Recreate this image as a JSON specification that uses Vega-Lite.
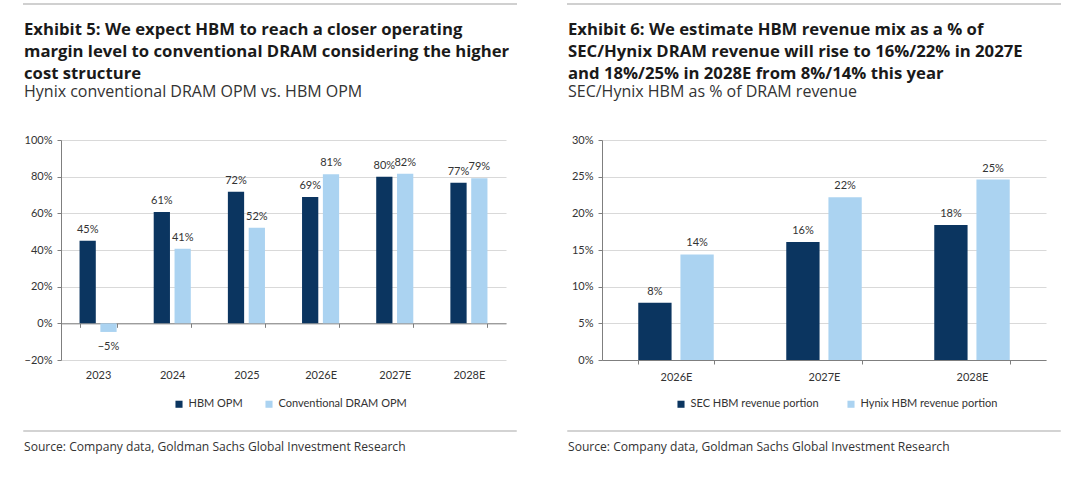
{
  "$schema": "https://vega.github.io/schema/vega-lite/v6.json",
  "background": "white",
  "padding": {"left": 23, "top": 3, "right": 0, "bottom": 0},
  "spacing": 50,
  "resolve": {
    "scale": {"color": "independent", "xOffset": "independent", "x": "independent", "y": "independent"},
    "legend": {"color": "independent"}
  },
  "hconcat": [
    {
      "columns": 1,
      "spacing": 14,
      "align": "none",
      "resolve": {"scale": {"color": "independent"}, "legend": {"color": "independent"}},
      "concat": [
        {
          "width": 492, "height": 0.01,
          "data": {"values": [{}]},
          "mark": {"type": "text", "text": " ", "fontSize": 1, "baseline": "top"},
          "encoding": {},
          "view": {"stroke": "#d0d0d0", "strokeWidth": 2}
        },
        {
          "width": 482, "height": 220,
          "title": {
            "text": ["Exhibit 5: We expect HBM to reach a closer operating", "margin level to conventional DRAM considering the higher", "cost structure"],
            "subtitle": "Hynix conventional DRAM OPM vs. HBM OPM"
          },
          "data": {
            "values": [
              {"year": "2023", "series": "HBM OPM", "value": 0.45},
              {"year": "2023", "series": "Conventional DRAM OPM", "value": -0.047},
              {"year": "2024", "series": "HBM OPM", "value": 0.607},
              {"year": "2024", "series": "Conventional DRAM OPM", "value": 0.407},
              {"year": "2025", "series": "HBM OPM", "value": 0.718},
              {"year": "2025", "series": "Conventional DRAM OPM", "value": 0.522},
              {"year": "2026E", "series": "HBM OPM", "value": 0.689},
              {"year": "2026E", "series": "Conventional DRAM OPM", "value": 0.813},
              {"year": "2027E", "series": "HBM OPM", "value": 0.8},
              {"year": "2027E", "series": "Conventional DRAM OPM", "value": 0.816},
              {"year": "2028E", "series": "HBM OPM", "value": 0.767},
              {"year": "2028E", "series": "Conventional DRAM OPM", "value": 0.791}
            ]
          },
          "encoding": {
            "x": {
              "field": "year", "type": "ordinal",
              "scale": {"range": [37, 482], "paddingInner": 0.5, "paddingOuter": 0.25},
              "axis": {"title": null, "offset": -36.67, "tickBand": "extent", "labelPadding": 42, "labelAngle": 0}
            },
            "xOffset": {"field": "series", "type": "nominal", "sort": ["HBM OPM", "Conventional DRAM OPM"], "scale": {"paddingInner": 0.22}},
            "y": {
              "field": "value", "type": "quantitative",
              "scale": {"domain": [-0.2, 1], "nice": false},
              "axis": {"title": null, "offset": -37, "format": ".0%", "values": [-0.2, 0, 0.2, 0.4, 0.6, 0.8, 1], "grid": true, "labelOverlap": false}
            }
          },
          "layer": [
            {
              "mark": {"type": "bar"},
              "encoding": {
                "color": {
                  "field": "series", "type": "nominal",
                  "scale": {"domain": ["HBM OPM", "Conventional DRAM OPM"], "range": ["#0b3560", "#abd3f1"]},
                  "legend": {"title": null, "orient": "none", "legendX": 143, "legendY": 252, "padding": 6.5, "direction": "horizontal", "columnPadding": 20}
                }
              }
            },
            {
              "transform": [{"filter": "datum.value >= 0"}],
              "mark": {"type": "text", "dy": -8, "baseline": "alphabetic"},
              "encoding": {
                "text": {"field": "value", "type": "quantitative", "format": ".0%"}
              }
            },
            {
              "transform": [{"filter": "datum.value < 0"}],
              "mark": {"type": "text", "dy": 9, "baseline": "top"},
              "encoding": {
                "text": {"field": "value", "type": "quantitative", "format": ".0%"}
              }
            }
          ]
        },
        {
          "width": 492, "height": 0.01,
          "data": {"values": []},
          "mark": {"type": "text"},
          "encoding": {},
          "view": {"stroke": "#c4c4c4", "strokeWidth": 1.5},
          "title": {"text": "Source: Company data, Goldman Sachs Global Investment Research", "orient": "bottom", "anchor": "start", "offset": 9.8, "fontSize": 12.1, "fontWeight": "normal", "color": "#333333"}
        }
      ]
    },
    {
      "columns": 1,
      "spacing": 14,
      "align": "none",
      "resolve": {"scale": {"color": "independent"}, "legend": {"color": "independent"}},
      "concat": [
        {
          "width": 492, "height": 0.01,
          "data": {"values": [{}]},
          "mark": {"type": "text", "text": " ", "fontSize": 1, "baseline": "top"},
          "encoding": {},
          "view": {"stroke": "#d0d0d0", "strokeWidth": 2}
        },
        {
          "width": 478, "height": 220,
          "title": {
            "text": ["Exhibit 6: We estimate HBM revenue mix as a % of", "SEC/Hynix DRAM revenue will rise to 16%/22% in 2027E", "and 18%/25% in 2028E from 8%/14% this year"],
            "subtitle": "SEC/Hynix HBM as % of DRAM revenue"
          },
          "data": {
            "values": [
              {"year": "2026E", "series": "SEC HBM revenue portion", "value": 0.078},
              {"year": "2026E", "series": "Hynix HBM revenue portion", "value": 0.144},
              {"year": "2027E", "series": "SEC HBM revenue portion", "value": 0.161},
              {"year": "2027E", "series": "Hynix HBM revenue portion", "value": 0.222},
              {"year": "2028E", "series": "SEC HBM revenue portion", "value": 0.184},
              {"year": "2028E", "series": "Hynix HBM revenue portion", "value": 0.246}
            ]
          },
          "encoding": {
            "x": {
              "field": "year", "type": "ordinal",
              "scale": {"range": [34, 478], "paddingInner": 0.49, "paddingOuter": 0.245},
              "axis": {"title": null, "tickBand": "extent", "labelPadding": 7, "labelAngle": 0}
            },
            "xOffset": {"field": "series", "type": "nominal", "sort": ["SEC HBM revenue portion", "Hynix HBM revenue portion"], "scale": {"paddingInner": 0.21}},
            "y": {
              "field": "value", "type": "quantitative",
              "scale": {"domain": [0, 0.3], "nice": false},
              "axis": {"title": null, "offset": -34, "format": ".0%", "values": [0, 0.05, 0.1, 0.15, 0.2, 0.25, 0.3], "grid": true, "labelOverlap": false}
            }
          },
          "layer": [
            {
              "mark": {"type": "bar"},
              "encoding": {
                "color": {
                  "field": "series", "type": "nominal",
                  "scale": {"domain": ["SEC HBM revenue portion", "Hynix HBM revenue portion"], "range": ["#0b3560", "#abd3f1"]},
                  "legend": {"title": null, "orient": "none", "legendX": 101, "legendY": 252, "padding": 6.5, "direction": "horizontal", "columnPadding": 26}
                }
              }
            },
            {
              "mark": {"type": "text", "dy": -8, "baseline": "alphabetic"},
              "encoding": {
                "text": {"field": "value", "type": "quantitative", "format": ".0%"}
              }
            }
          ]
        },
        {
          "width": 492, "height": 0.01,
          "data": {"values": []},
          "mark": {"type": "text"},
          "encoding": {},
          "view": {"stroke": "#c4c4c4", "strokeWidth": 1.5},
          "title": {"text": "Source: Company data, Goldman Sachs Global Investment Research", "orient": "bottom", "anchor": "start", "offset": 9.8, "fontSize": 12.1, "fontWeight": "normal", "color": "#333333"}
        }
      ]
    }
  ],
  "config": {
    "view": {"stroke": null},
    "font": "Lato",
    "title": {
      "anchor": "start", "frame": "group", "font": "Open Sans", "fontSize": 16.7, "fontWeight": "bold", "color": "#1a1a1a",
      "lineHeight": 22, "offset": 33.7,
      "subtitleFont": "Open Sans", "subtitleFontSize": 16, "subtitleColor": "#333333", "subtitlePadding": 2
    },
    "axis": {
      "labelFont": "Lato", "labelFontSize": 11, "labelColor": "#333333",
      "domainColor": "#7f7f7f", "tickColor": "#7f7f7f", "tickSize": 4,
      "gridColor": "#d9d9d9", "labelPadding": 5
    },
    "legend": {"labelFont": "Lato", "labelFontSize": 11, "labelColor": "#333333", "symbolType": "square", "symbolSize": 50, "symbolStrokeWidth": 0, "labelOffset": 4},
    "text": {"font": "Lato", "fontSize": 11, "color": "#333333"}
  }
}
